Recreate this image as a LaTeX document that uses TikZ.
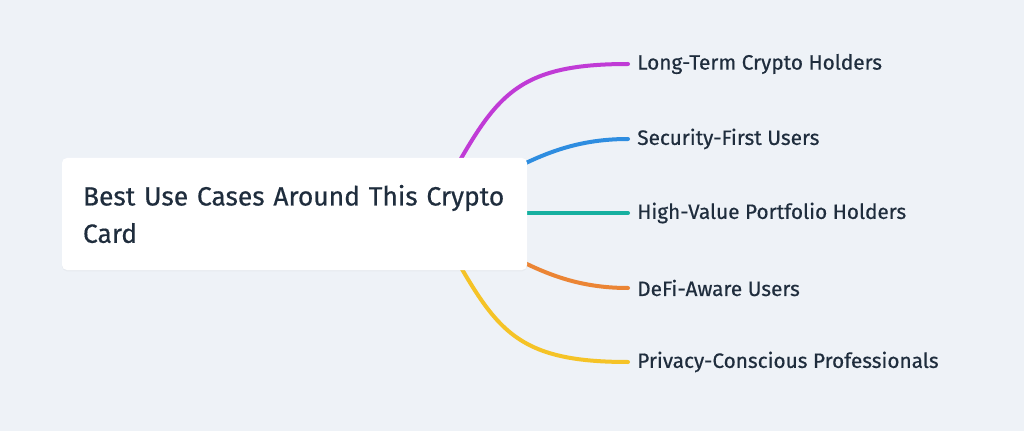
\documentclass[tikz,border=0pt]{standalone}
\usepackage{fontspec}
\setmainfont[FakeBold=0.5]{Fira Sans}
\usetikzlibrary{shadows}

\begin{document}
\begin{tikzpicture}[x=0.75pt, y=-0.75pt]

	% Styles
	\tikzset{
		rootbox/.style={
			rectangle, fill=white, draw=none,
			rounded corners=3.75pt,
			minimum width=348.75pt, minimum height=84pt,
			text width=317.25pt, inner xsep=15.75pt,
			align=left, text=textnavy,
			font=\fontsize{19.8}{28}\selectfont,
			drop shadow={opacity=0.06, shadow xshift=0pt, shadow yshift=-1pt},
		},
		leaf/.style={
			anchor=west, inner sep=0pt, text=textnavy,
			font=\fontsize{15.6}{18}\selectfont,
		},
		branch/.style={
			line width=3pt, line cap=round, draw=#1,
		}
	}

	% Colors
	\definecolor{bgpale}{HTML}{EEF2F7}
	\definecolor{textnavy}{HTML}{1F2D3D}
	\definecolor{brpurple}{HTML}{C03BD6}
	\definecolor{brblue}{HTML}{2E8DE0}
	\definecolor{brteal}{HTML}{16B0A0}
	\definecolor{brorange}{HTML}{EB8535}
	\definecolor{bryellow}{HTML}{F5C327}

	% Background
	\fill[bgpale] (0,0) rectangle (1024,431);
	\useasboundingbox (0,0) rectangle (1024,431);

	% Hub hidden behind the central box
	\coordinate (hub) at (430,213);

	% Leaves on the right
	\node[leaf] (holders) at (637,64) {Long-Term Crypto Holders};
	\node[leaf] (security) at (637,139) {Security-First Users};
	\node[leaf] (highvalue) at (637,213) {High-Value Portfolio Holders};
	\node[leaf] (defi) at (637,288) {DeFi-Aware Users};
	\node[leaf] (privacy) at (637,362) {Privacy-Conscious Professionals};

	% Branches from the hub to the leaves
	\draw[branch=brpurple] (hub) to[out=60, in=180, looseness=1.3] ([xshift=-6.75pt]holders.west);
	\draw[branch=brblue] (hub) to[out=25, in=180] ([xshift=-6.75pt]security.west);
	\draw[branch=brteal] (hub) -- ([xshift=-6.75pt]highvalue.west);
	\draw[branch=brorange] (hub) to[out=-25, in=180] ([xshift=-6.75pt]defi.west);
	\draw[branch=bryellow] (hub) to[out=-60, in=180, looseness=1.3] ([xshift=-6.75pt]privacy.west);

	% Central box (drawn last so it covers the hub)
	\node[rootbox] (root) at (294.5,214) {Best Use Cases Around This Crypto\\Card};

\end{tikzpicture}
\end{document}
